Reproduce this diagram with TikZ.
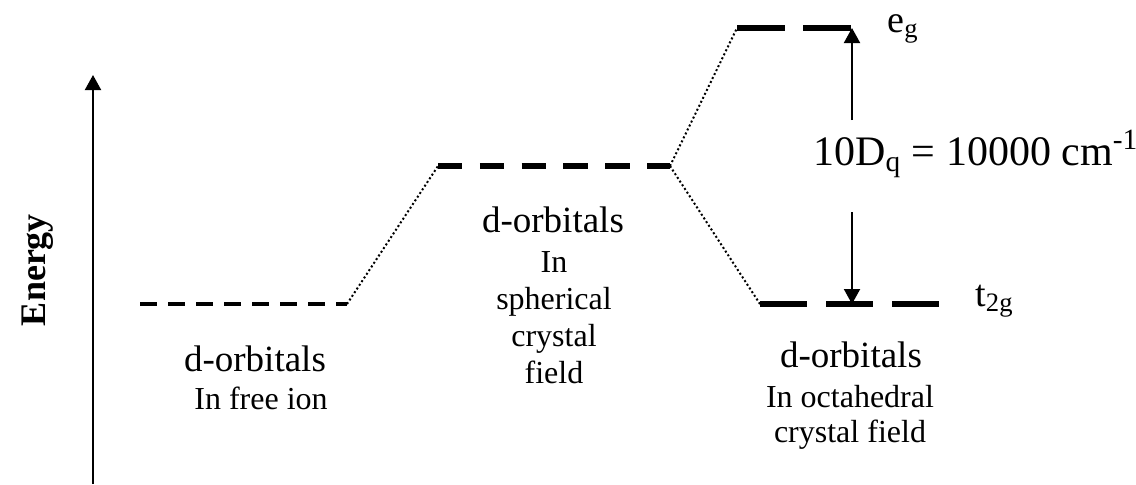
\documentclass[tikz,border=0pt]{standalone}
\usepackage{fontspec}
\setmainfont{Liberation Serif}
\usetikzlibrary{arrows.meta}

\begin{document}
\begin{tikzpicture}[x=0.5pt, y=-0.5pt,
        link/.style={
            line width=1pt,
            dash pattern=on 1pt off 1.2pt},
        arrow/.style={
            line width=1pt,
            -{Triangle[width=8pt,length=7.5pt]}},
        title/.style={
            anchor=base,
            font=\fontsize{18.5}{22}\selectfont},
        sub/.style={
            anchor=base,
            align=center,
            font=\fontsize{16}{18.5}\selectfont},
        tag/.style={
            anchor=base west,
            inner sep=0pt,
            font=\fontsize{19}{22}\selectfont}
        ]
    \useasboundingbox (0,0) rectangle (1136,484);

    % energy axis
    \coordinate (axis0) at (93,484);
    \coordinate (axis1) at (93,75);
    \draw [arrow] (axis0) -- (axis1);
    \node (energy) [rotate=90, anchor=base, font=\bfseries\fontsize{18}{22}\selectfont] at (46,270) {Energy};

    % level end points
    \coordinate (free0) at (140,304);
    \coordinate (free1) at (347,304);
    \coordinate (sph0) at (438,166);
    \coordinate (sph1) at (670,166);
    \coordinate (eg0) at (737,28);
    \coordinate (eg1) at (852,28);
    \coordinate (t2g0) at (760,304);
    \coordinate (t2g1) at (939,304);
    \coordinate (t2gmid) at (852,304);

    % levels
    \draw [line width=2pt, dash pattern=on 8.3pt off 5.7pt] (free0) -- (free1);
    \draw [line width=3pt, dash pattern=on 12.2pt off 8.7pt] (sph0) -- (sph1);
    \draw [line width=3.2pt, dash pattern=on 24pt off 9pt] (eg0) -- (eg1);
    \draw [line width=3pt, dash pattern=on 23.5pt off 9.5pt] (t2g0) -- (t2g1);

    % correlation lines
    \draw [link] (free1) -- (sph0);
    \draw [link] (sph1) -- (eg0);
    \draw [link] (sph1) -- (t2g0);

    % splitting
    \node (dq) [tag, font=\fontsize{21}{24}\selectfont] at (813,165) {10D\textsubscript{q} = 10000 cm\textsuperscript{-1}};
    \coordinate (dqtop) at (852,120);
    \coordinate (dqbot) at (852,212);
    \draw [arrow] (dqtop) -- (eg1);
    \draw [arrow] (dqbot) -- (t2gmid);

    \node (eg) [tag] at (887,32) {e\textsubscript{g}};
    \node (t2g) [tag] at (975,306) {t\textsubscript{2g}};

    % captions (multi-line ones sit on their last baseline)
    \node (freeA) [title] at (255,371) {d-orbitals};
    \node (freeB) [sub] at (261,409) {In free ion};
    \node (sphA) [title] at (553,232) {d-orbitals};
    \node (sphB) [sub] at (554,383) {In\\spherical\\crystal\\field};
    \node (octA) [title] at (851,367) {d-orbitals};
    \node (octB) [sub, font=\fontsize{16}{17.5}\selectfont] at (850,442) {In octahedral\\crystal field};

\end{tikzpicture}
\end{document}
